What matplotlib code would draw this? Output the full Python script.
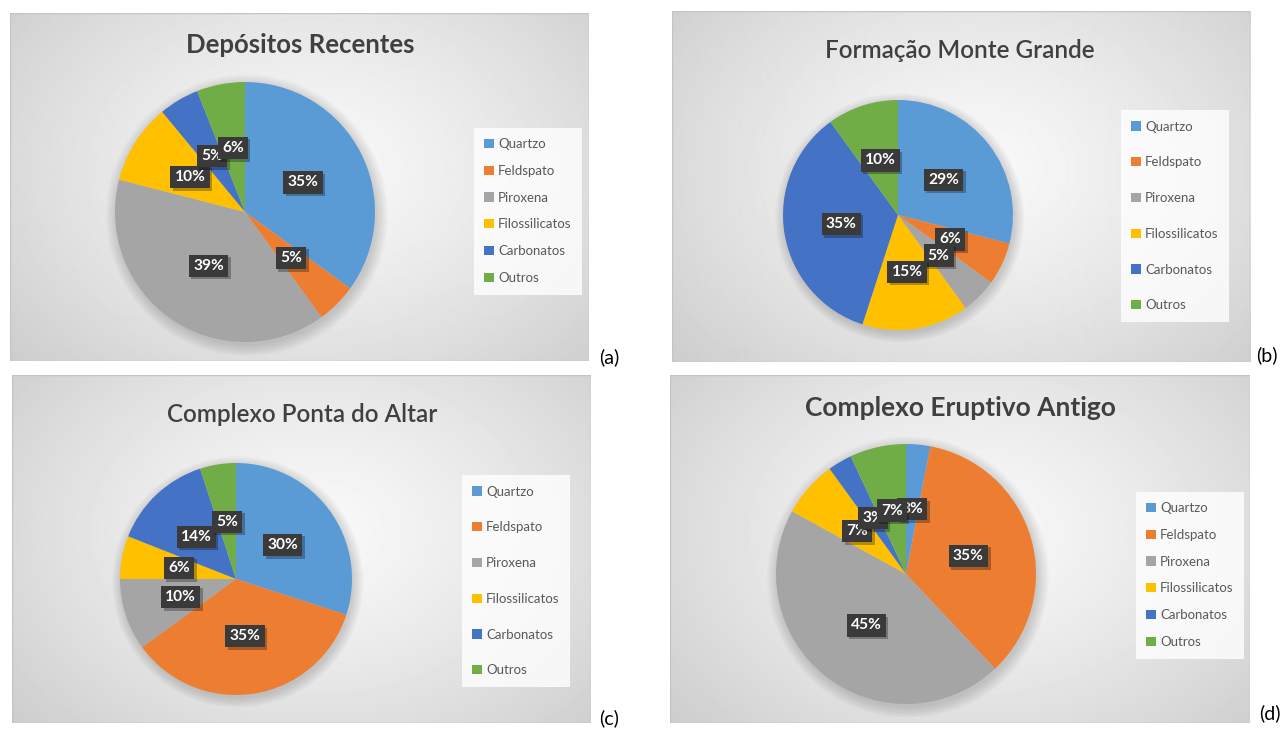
import matplotlib
matplotlib.use('Agg')
import matplotlib.pyplot as plt
import numpy as np
from matplotlib.transforms import offset_copy
from matplotlib.patches import Circle, Rectangle

plt.rcParams['font.family'] = ['Lato', 'DejaVu Sans']

# ---------------- data ----------------
categories = ['Quartzo', 'Feldspato', 'Piroxena', 'Filossilicatos', 'Carbonatos', 'Outros']
colors = ['#5B9BD5', '#ED7D31', '#A5A5A5', '#FFC000', '#4472C4', '#70AD47']

titles = ['Depósitos Recentes', 'Formação Monte Grande',
          'Complexo Ponta do Altar', 'Complexo Eruptivo Antigo']
panel_labels = ['(a)', '(b)', '(c)', '(d)']

values_a = [35, 5, 39, 10, 5, 6]
values_b = [29, 6, 5, 15, 35, 10]
values_c = [30, 35, 10, 6, 14, 5]
values_d = [3, 35, 45, 7, 3, 7]
all_values = [values_a, values_b, values_c, values_d]

# ---------------- layout (pixels, top-left origin) ----------------
W, H = 1284, 729
panels = [(10, 13, 589, 361), (672, 11, 1250, 362),
          (12, 375, 591, 723), (670, 375, 1250, 723)]
pie_geom = [(245, 212, 130), (898, 215, 115), (236, 579, 116), (906, 574, 130)]
title_pos = [(300, 45), (960, 50), (302, 415), (960, 408)]
title_size = [18.5, 17.5, 17.5, 19]
title_weight = ['bold', 'semibold', 'semibold', 'bold']
legend_pos = [(528, 211), (1175, 216), (516, 581), (1190, 575)]
legend_spacing = [1.12, 1.8, 1.8, 1.12]
label_pos = [(609, 357), (1267, 355), (609, 718), (1270, 713)]

fig = plt.figure(figsize=(W / 100, H / 100), dpi=100)


def frac_rect(x0, y0, x1, y1):
    return [x0 / W, 1 - y1 / H, (x1 - x0) / W, (y1 - y0) / H]


for k in range(4):
    x0, y0, x1, y1 = panels[k]
    # background with radial gradient
    bg = fig.add_axes(frac_rect(x0, y0, x1, y1))
    pw, ph = x1 - x0, y1 - y0
    yy, xx = np.mgrid[0:ph, 0:pw]
    d = np.sqrt(((xx - pw * 0.52) / (pw * 0.62)) ** 2 + ((yy - ph * 0.45) / (ph * 0.75)) ** 2)
    shade = 0.975 - 0.15 * np.clip(d, 0, 1.2) ** 1.3
    bg.imshow(shade, cmap='gray', vmin=0, vmax=1, aspect='auto',
              extent=[0, 1, 0, 1], interpolation='bilinear')
    bg.add_patch(Rectangle((0, 0), 1, 1, transform=bg.transAxes, fill=False,
                           ec='#c4c4c4', lw=1.0))
    bg.set_xlim(0, 1)
    bg.set_ylim(0, 1)
    bg.axis('off')

    # pie
    cx, cy, r = pie_geom[k]
    m = 1.1
    ax = fig.add_axes(frac_rect(cx - r * m, cy - r * m, cx + r * m, cy + r * m))
    for i in range(8):
        ax.add_patch(Circle((0.015, -0.025), 1.0 + 0.012 * i, color='black',
                            alpha=0.018, lw=0, zorder=0))
    wedges, texts, autotexts = ax.pie(
        all_values[k], colors=colors, startangle=90, counterclock=False,
        radius=1.0, autopct=lambda p: f'{p:.0f}%', pctdistance=0.5,
        wedgeprops=dict(linewidth=0), textprops=dict(color='white'))
    for i, t in enumerate(autotexts):
        xt, ytxt = t.get_position()
        t.set_fontsize(11.2)
        t.set_fontweight('bold')
        t.set_color('white')
        t.set_zorder(10 + 2 * i + 1)
        t.set_bbox(dict(boxstyle='square,pad=0.27', fc='#3a3a3a', ec='none'))
        ax.text(xt, ytxt, t.get_text(), ha='center', va='center',
                fontsize=11.2, fontweight='bold', color=(0, 0, 0, 0),
                transform=offset_copy(ax.transData, fig=fig, x=2.5, y=-2.5, units='dots'),
                zorder=10 + 2 * i,
                bbox=dict(boxstyle='square,pad=0.27', fc=(0, 0, 0, 0.28), ec='none'))
    ax.set_xlim(-m, m)
    ax.set_ylim(-m, m)
    ax.set_aspect('equal')
    ax.axis('off')

    # legend
    lx, ly = legend_pos[k]
    leg = fig.legend(wedges, categories, loc='center',
                     bbox_to_anchor=(lx / W, 1 - ly / H), fontsize=9.5,
                     labelspacing=legend_spacing[k], handlelength=0.7,
                     handleheight=0.7, handletextpad=0.35, borderpad=0.8,
                     borderaxespad=0, fancybox=False, frameon=True,
                     labelcolor='#595959')
    leg.get_frame().set_facecolor((1, 1, 1, 0.35))
    leg.get_frame().set_edgecolor('none')

    # title
    tx, ty = title_pos[k]
    fig.text(tx / W, 1 - ty / H, titles[k], ha='center', va='center',
             fontsize=title_size[k], fontweight=title_weight[k], color='#404040')

    # panel label
    px, py = label_pos[k]
    fig.text(px / W, 1 - py / H, panel_labels[k], ha='center', va='center',
             fontsize=14, color='black')

fig.savefig('out.png', dpi=100, facecolor='white')
